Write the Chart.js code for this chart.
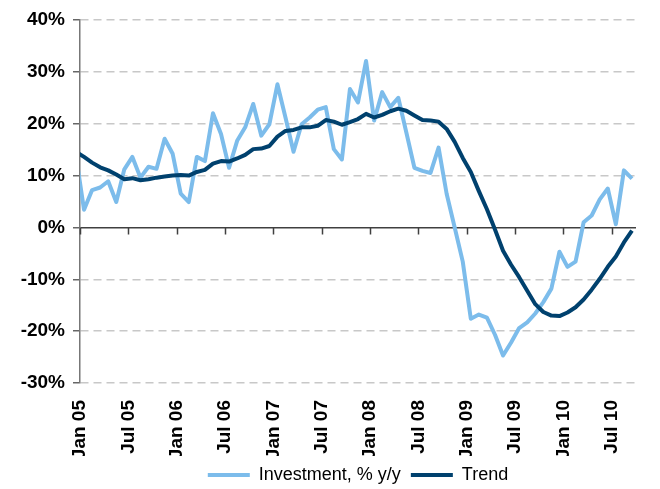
<!DOCTYPE html>
<html>
<head>
<meta charset="utf-8">
<script src="https://cdn.jsdelivr.net/npm/chart.js@4/dist/chart.umd.min.js"></script>
<style>
  html, body { margin: 0; padding: 0; background: #fff; }
  #wrap { width: 660px; height: 489px; }
</style>
</head>
<body>
<div id="wrap"><canvas id="chart" width="660" height="489"></canvas></div>
<script>
// monthly, Dec 04 (partly outside the plot) .. Sep 10
const months = [
  'Dec 04',
  'Jan 05','Feb 05','Mar 05','Apr 05','May 05','Jun 05','Jul 05','Aug 05','Sep 05','Oct 05','Nov 05','Dec 05',
  'Jan 06','Feb 06','Mar 06','Apr 06','May 06','Jun 06','Jul 06','Aug 06','Sep 06','Oct 06','Nov 06','Dec 06',
  'Jan 07','Feb 07','Mar 07','Apr 07','May 07','Jun 07','Jul 07','Aug 07','Sep 07','Oct 07','Nov 07','Dec 07',
  'Jan 08','Feb 08','Mar 08','Apr 08','May 08','Jun 08','Jul 08','Aug 08','Sep 08','Oct 08','Nov 08','Dec 08',
  'Jan 09','Feb 09','Mar 09','Apr 09','May 09','Jun 09','Jul 09','Aug 09','Sep 09','Oct 09','Nov 09','Dec 09',
  'Jan 10','Feb 10','Mar 10','Apr 10','May 10','Jun 10','Jul 10','Aug 10','Sep 10'
];

const investment = [
  13.8,
  3.4, 7.2, 7.7, 8.9, 4.9, 11.2, 13.6, 9.6, 11.7, 11.3, 17.1, 14.2,
  6.5, 4.9, 13.6, 12.8, 22.0, 18.0, 11.5, 16.7, 19.3, 23.8, 17.7, 19.9,
  27.6, 21.2, 14.6, 19.9, 21.2, 22.7, 23.2, 15.1, 13.1, 26.7, 24.1, 32.1,
  20.6, 26.1, 23.2, 25.0, 18.3, 11.5, 10.9, 10.5, 15.4, 6.5, 0.0, -6.6,
  -17.6, -16.8, -17.4, -20.7, -24.7, -22.2, -19.4, -18.3, -16.6, -14.4, -11.8, -4.7,
  -7.6, -6.6, 1.0, 2.3, 5.4, 7.5, 0.6, 11.0, 9.4
];

const trend = [
  14.6,
  13.6, 12.5, 11.6, 11.0, 10.2, 9.3, 9.5, 9.1, 9.3, 9.6, 9.8, 10.0,
  10.1, 10.0, 10.7, 11.1, 12.3, 12.8, 12.7, 13.3, 14.0, 15.1, 15.2, 15.7,
  17.5, 18.6, 18.8, 19.3, 19.3, 19.6, 20.7, 20.4, 19.8, 20.3, 20.9, 21.9,
  21.2, 21.7, 22.4, 22.9, 22.5, 21.6, 20.7, 20.6, 20.4, 19.0, 16.5, 13.4,
  10.7, 7.0, 3.5, -0.4, -4.5, -7.2, -9.6, -12.2, -14.8, -16.3, -17.0, -17.1,
  -16.4, -15.4, -13.9, -12.0, -9.9, -7.6, -5.6, -2.9, -0.6
];

const tickLabels = ['Jan 05','Jul 05','Jan 06','Jul 06','Jan 07','Jul 07',
                    'Jan 08','Jul 08','Jan 09','Jul 09','Jan 10','Jul 10'];

// x = months since 1 Jan 2005, points sit mid-month
const toPoints = vals => vals.map((v, i) => ({ x: i - 0.5, y: v }));

Chart.defaults.font.family = "'Liberation Sans', Arial, sans-serif";
Chart.defaults.color = '#000';

// small tick marks hanging from the zero line
const zeroTicks = {
  id: 'zeroTicks',
  beforeDatasetsDraw(chart) {
    const { ctx, scales: { x, y } } = chart;
    const y0 = y.getPixelForValue(0);
    ctx.save();
    ctx.strokeStyle = '#404040';
    ctx.lineWidth = 1.5;
    ctx.beginPath();
    x.ticks.forEach(t => {
      const px = Math.round(x.getPixelForValue(t.value)) + 0.5;
      ctx.moveTo(px, y0);
      ctx.lineTo(px, y0 + 7);
    });
    ctx.stroke();
    ctx.restore();
  }
};

new Chart(document.getElementById('chart'), {
  type: 'line',
  data: {
    datasets: [
      {
        label: 'Investment, % y/y',
        data: toPoints(investment),
        borderColor: '#7CBCEB',
        backgroundColor: '#7CBCEB',
        borderWidth: 4,
        order: 1
      },
      {
        label: 'Trend',
        data: toPoints(trend),
        borderColor: '#00416E',
        backgroundColor: '#00416E',
        borderWidth: 4,
        order: 0
      }
    ]
  },
  options: {
    responsive: false,
    animation: false,
    layout: { padding: { top: 20, right: 24, left: 0, bottom: -5 } },
    elements: {
      point: { radius: 0 },
      line: { tension: 0, borderJoinStyle: 'round', borderCapStyle: 'butt' }
    },
    scales: {
      x: {
        type: 'linear',
        min: 0,
        max: 69,
        grid: { display: false },
        border: { display: false },
        ticks: {
          stepSize: 6,
          includeBounds: false,
          autoSkip: false,
          minRotation: 90,
          maxRotation: 90,
          padding: 9,
          font: { size: 19, weight: 'bold' },
          callback: (v, i) => tickLabels[i]
        },
        afterFit: s => { s.height = 73; }
      },
      y: {
        min: -30,
        max: 40,
        ticks: {
          stepSize: 10,
          padding: 8,
          font: { size: 19, weight: 'bold' },
          callback: v => v + '%'
        },
        grid: {
          color: c => c.tick && c.tick.value === 0 ? '#404040' : '#C8C8C8',
          lineWidth: 1.5,
          tickColor: '#666',
          tickLength: 7,
          tickBorderDash: []
        },
        border: {
          color: '#777',
          width: 1.5,
          dash: c => c.tick && c.tick.value === 0 ? [] : [8, 5]
        },
        afterFit: s => { s.width = 80; }
      }
    },
    plugins: {
      tooltip: { enabled: false },
      legend: {
        position: 'bottom',
        fullSize: false,
        labels: {
          boxWidth: 42,
          boxHeight: 4,
          padding: 10,
          font: { size: 18 },
          sort: (a, b) => a.datasetIndex - b.datasetIndex,
          generateLabels: chart =>
            Chart.defaults.plugins.legend.labels.generateLabels(chart).map(l => ({ ...l, lineWidth: 0 }))
        }
      }
    }
  },
  plugins: [zeroTicks]
});
</script>
</body>
</html>
